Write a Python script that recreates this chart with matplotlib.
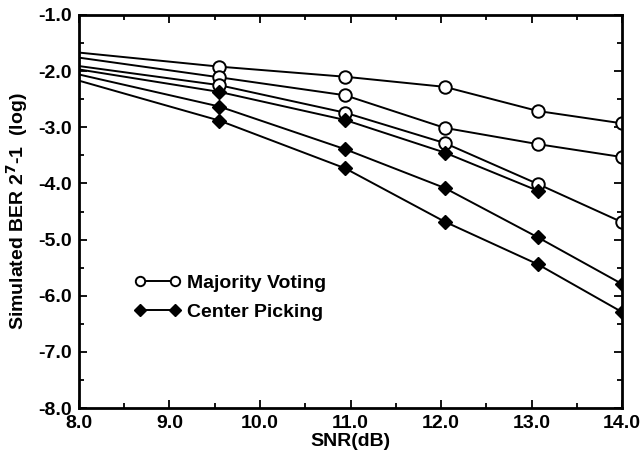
import numpy as np
import matplotlib
matplotlib.use("Agg")
import matplotlib.pyplot as plt

plt.rcParams['font.family'] = ['Liberation Sans', 'DejaVu Sans']
plt.rcParams['font.weight'] = 'bold'

snr = [8.0, 9.55, 10.94, 12.04, 13.07, 14.0]

# majority voting (open circles)
mv1 = [-1.67, -1.92, -2.10, -2.28, -2.71, -2.93]
mv2 = [-1.76, -2.11, -2.43, -3.01, -3.30, -3.53]
mv3 = [-1.91, -2.25, -2.74, -3.28, -4.01, -4.69]

# center picking (filled diamonds)
cp1 = [-1.97, -2.37, -2.87, -3.45, -4.13, np.nan]
cp2 = [-2.06, -2.63, -3.39, -4.08, -4.96, -5.79]
cp3 = [-2.17, -2.88, -3.73, -4.68, -5.44, -6.29]

xticks = [8.0, 9.0, 10.0, 11.0, 12.0, 13.0, 14.0]
yticks = [-8.0, -7.0, -6.0, -5.0, -4.0, -3.0, -2.0, -1.0]

fig = plt.figure(figsize=(6.42, 4.53), dpi=100)
ax = fig.add_axes([0.123, 0.099, 0.846, 0.868])

mv_style = dict(color='black', lw=1.4, marker='o', ms=9, mfc='white', mec='black', mew=1.4,
                markevery=slice(1, None))
cp_style = dict(color='black', lw=1.4, marker='D', ms=7.5, mfc='black', mec='black',
                markevery=slice(1, None))

ax.plot(snr, mv1, label='Majority Voting', **mv_style)
ax.plot(snr, mv2, **mv_style)
ax.plot(snr, mv3, **mv_style)
ax.plot(snr, cp1, label='Center Picking', **cp_style)
ax.plot(snr, cp2, **cp_style)
ax.plot(snr, cp3, **cp_style)

ax.set_xlim(8, 14)
ax.set_ylim(-8, -1)
ax.set_xticks(xticks)
ax.set_yticks(yticks)
ax.set_xticks(np.arange(8.5, 14, 1.0), minor=True)
ax.set_yticks(np.arange(-7.5, -1, 1.0), minor=True)
ax.set_xticklabels(['%.1f' % v for v in xticks])
ax.set_yticklabels(['%.1f' % v for v in yticks])
ax.tick_params(which='both', direction='in', top=True, right=True, labelsize=14, width=1.3)
ax.tick_params(which='major', length=6)
ax.tick_params(axis='x', which='major', pad=5)
ax.tick_params(axis='y', which='major', pad=5)
ax.tick_params(which='minor', length=3.5)
for s in ax.spines.values():
    s.set_linewidth(2)

ax.set_xlabel('SNR(dB)', fontsize=14, fontweight='bold', labelpad=1)
ax.set_ylabel('Simulated BER 2$^{\\mathbf{7}}$-1  (log)', fontsize=14, fontweight='bold', labelpad=6)

leg = ax.legend(loc='upper left', bbox_to_anchor=(0.07, 0.385), frameon=False, numpoints=2,
                handlelength=2.4, handletextpad=0.3, markerscale=0.75, labelspacing=0.6,
                prop={'size': 14, 'weight': 'bold'})

fig.savefig('out.png', dpi=100)
